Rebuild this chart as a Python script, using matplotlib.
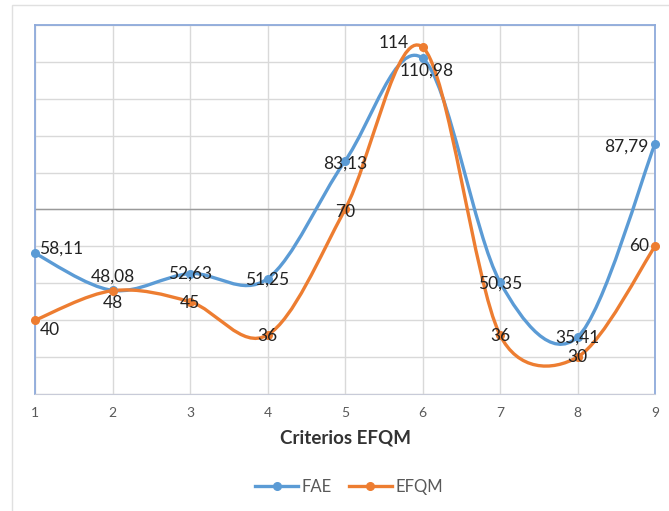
import numpy as np
import matplotlib
matplotlib.use("Agg")
import matplotlib.pyplot as plt
from matplotlib.path import Path
from matplotlib.patches import PathPatch, Rectangle
from matplotlib.lines import Line2D

plt.rcParams['font.family'] = ['Lato', 'DejaVu Sans']

criterios = [1, 2, 3, 4, 5, 6, 7, 8, 9]
fae = [58.11, 48.08, 52.63, 51.25, 83.13, 110.98, 50.35, 35.41, 87.79]
efqm = [40, 48, 45, 36, 70, 114, 36, 30, 60]

fae_color = "#5b9bd5"
efqm_color = "#ed7d31"


def smooth_path(ax, x, y):
    # Excel style smoothed line: bezier segments, control arms limited
    # to half the segment length (worked out in screen space)
    pts = ax.transData.transform(np.column_stack([x, y]).astype(float))
    ext = np.vstack([pts[0], pts, pts[-1]])
    verts = [pts[0]]
    codes = [Path.MOVETO]
    for i in range(1, len(ext) - 2):
        p0, p1, p2, p3 = ext[i - 1], ext[i], ext[i + 1], ext[i + 2]
        half = np.linalg.norm(p2 - p1) / 2
        v1 = (p2 - p0) / 6
        v2 = (p3 - p1) / 6
        if np.linalg.norm(v1) > half:
            v1 = v1 / np.linalg.norm(v1) * half
        if np.linalg.norm(v2) > half:
            v2 = v2 / np.linalg.norm(v2) * half
        verts += [p1 + v1, p2 - v2, p2]
        codes += [Path.CURVE4] * 3
    verts = ax.transData.inverted().transform(np.array(verts))
    return Path(verts, codes)


def fmt(v):
    if float(v).is_integer():
        return str(int(v))
    return f"{v:.2f}".replace(".", ",")


fig = plt.figure(figsize=(6.69, 5.11), dpi=100)
fig.patches.append(Rectangle((12 / 669, -0.01), 1.0, (511 - 5) / 511 + 0.01,
                             transform=fig.transFigure, fill=False,
                             edgecolor="#e0e0e0", linewidth=1))
ax = fig.add_axes([35 / 669, (511 - 394) / 511, 620 / 669, 369 / 511])

ax.set_xlim(1, 9)
ax.set_ylim(20, 120)
ax.set_xticks(criterios)
ax.set_yticks(np.arange(20, 121, 10))
ax.yaxis.set_tick_params(length=0, labelleft=False)
ax.xaxis.set_tick_params(length=0, labelsize=10, labelcolor="#595959", pad=9)
ax.grid(True, color="#d9d9d9", linewidth=1)
ax.axhline(70, color="#9a9a9a", linewidth=1, zorder=1)
for s in ["top", "right", "left"]:
    ax.spines[s].set_color("#8eaadb")
    ax.spines[s].set_linewidth(1.3)
ax.spines["bottom"].set_color("#c8cbd8")
ax.set_axisbelow(True)

for ys, col in [(fae, fae_color), (efqm, efqm_color)]:
    ax.add_patch(PathPatch(smooth_path(ax, criterios, ys), facecolor="none",
                           edgecolor=col, linewidth=2.4, zorder=3, clip_on=False))
    ax.plot(criterios, ys, linestyle="none", marker="o", markersize=5.5,
            color=col, zorder=4, clip_on=False)

# data label offsets in points (dx, dy, ha)
fae_off = [(3, 3.5, "left"), (0, 10, "center"), (0, 0, "center"),
           (0, -1, "center"), (0, -2, "center"), (3, -9, "center"),
           (0, -1, "center"), (0, 0, "center"), (-5, -2, "right")]
efqm_off = [(11, -7, "center"), (0, -9, "center"), (0, -1, "center"),
            (0, -1, "center"), (0, -1.5, "center"), (-21, 3, "center"),
            (0, -1, "center"), (0, 0, "center"), (-4, 0, "right")]
for ys, offs in [(fae, fae_off), (efqm, efqm_off)]:
    for xv, yv, (dx, dy, ha) in zip(criterios, ys, offs):
        ax.annotate(fmt(yv), (xv, yv), xytext=(dx, dy), textcoords="offset points",
                    ha=ha, va="center", fontsize=12.5, color="#222222", zorder=5)

ax.set_xlabel("Criterios EFQM", fontsize=13.5, fontweight="bold",
              color="#333333", labelpad=8)

handles = [Line2D([], [], color=fae_color, linewidth=2.4, marker="o", markersize=5.5),
           Line2D([], [], color=efqm_color, linewidth=2.4, marker="o", markersize=5.5)]
leg = fig.legend(handles, ["FAE", "EFQM"], loc="center", ncol=2,
                 bbox_to_anchor=(349 / 669, 1 - 487 / 511), frameon=False,
                 fontsize=12, handlelength=2.6, handletextpad=0.2, columnspacing=1.0)
for t in leg.get_texts():
    t.set_color("#595959")

fig.savefig("out.png", dpi=100)
